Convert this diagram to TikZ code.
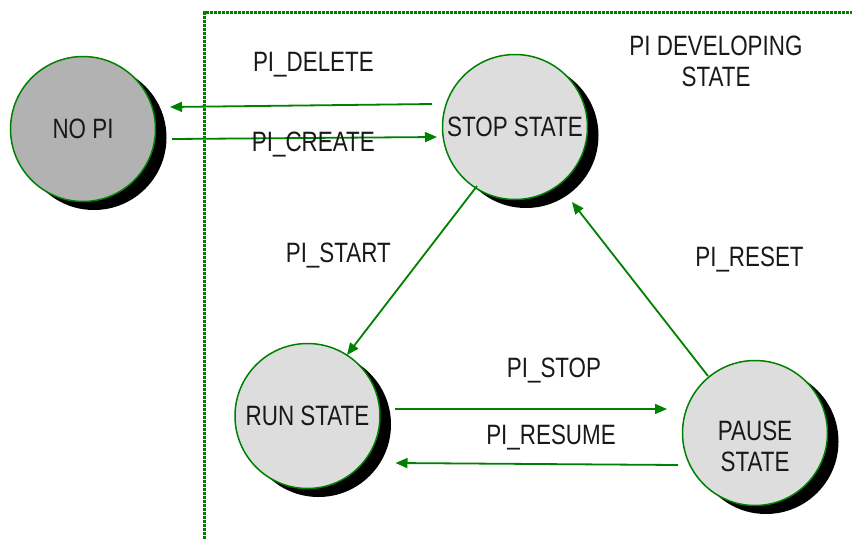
\documentclass[tikz,border=0pt]{standalone}
\usepackage{fontspec}
\setmainfont[FakeStretch=0.8]{Liberation Sans}
\usetikzlibrary{arrows.meta,shadows,calc}
\definecolor{grn}{RGB}{0,128,0}
\definecolor{lgray}{RGB}{221,221,221}
\definecolor{dgray}{RGB}{178,178,178}
\begin{document}
\begin{tikzpicture}[x=1pt,y=-1pt,
  state/.style={circle, draw=grn, line width=1.5pt, minimum size=145pt, inner sep=0pt, outer sep=0pt,
    font=\fontsize{28}{31.7}\selectfont, align=center, text=black!90,
    drop shadow={shadow xshift=11pt, shadow yshift=-8.5pt, fill=black, opacity=1}},
  lbl/.style={font=\fontsize{28}{31}\selectfont, anchor=base, inner sep=0pt, text=black!90},
  conn/.style={draw=grn, line width=1.8pt, -{Triangle[length=12pt,width=10pt]}}]
\useasboundingbox (0,0) rectangle (852,539);
% region border
\draw[grn, line width=2.7pt, dash pattern=on 2.7pt off 1.3pt] (204.5,539) -- (204.5,12.5) -- (852,12.5);
% states
\node[state, fill=dgray] (nopi) at (83,129) {NO PI};
\node[state, fill=lgray] (stop) at (515,127) {STOP STATE};
\node[state, fill=lgray] (run) at (307.5,416) {RUN STATE};
\node[state, fill=lgray] (pause) at (755,433) {};
\node[lbl, align=center] (pausetxt) at (755,471.7) {PAUSE\\STATE};
% connectors
\draw[conn] ($(stop)+(-83,-23)$) -- ($(nopi)+(87,-22)$);
\draw[conn] ($(nopi)+(89,10)$) -- ($(stop)+(-78,10)$);
\draw[conn] ($(stop)+(-38,59)$) -- ($(run)+(39.5,-61)$);
\draw[conn] ($(pause)+(-47,-57)$) -- ($(stop)+(57,75)$);
\draw[conn] ($(run)+(87.5,-7)$) -- ($(pause)+(-88,-24)$);
\draw[conn] ($(pause)+(-77,32)$) -- ($(run)+(88,47)$);
% labels
\node[lbl] (ldelete) at (313.4,71.7) {PI\_DELETE};
\node[lbl] (lcreate) at (313.3,151.7) {PI\_CREATE};
\node[lbl] (lstart) at (338.3,262) {PI\_START};
\node[lbl] (lreset) at (749.5,266.5) {PI\_RESET};
\node[lbl] (lstop) at (554,377.3) {PI\_STOP};
\node[lbl] (lresume) at (551,444) {PI\_RESUME};
\node[lbl, align=center] (ldev) at (716,86.7) {PI DEVELOPING\\STATE};
\end{tikzpicture}
\end{document}
